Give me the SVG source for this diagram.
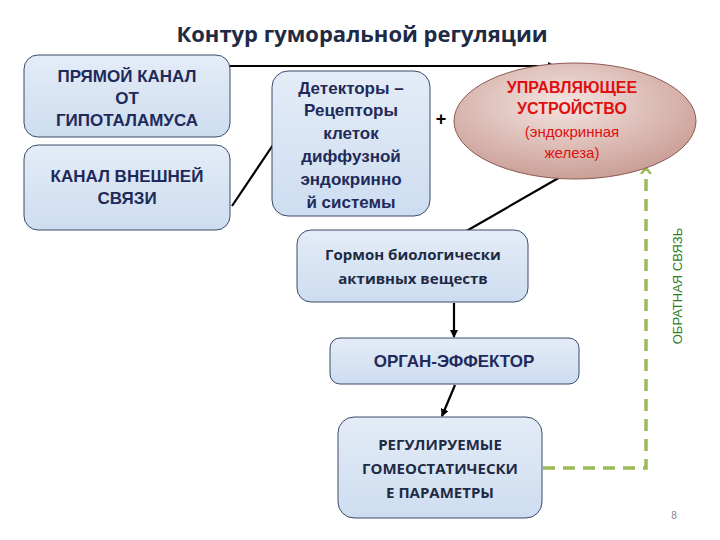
<svg xmlns="http://www.w3.org/2000/svg" width="720" height="540" viewBox="0 0 720 540">
<defs>
<linearGradient id="bg" x1="0" y1="0" x2="0" y2="1"><stop offset="0" stop-color="#e4ecf7"/><stop offset="1" stop-color="#cdddf0"/></linearGradient>
<radialGradient id="eg" cx="0.45" cy="0.35" r="0.7"><stop offset="0" stop-color="#f4e4e0"/><stop offset="1" stop-color="#c79a91"/></radialGradient>
<marker id="ah" markerWidth="8" markerHeight="8" refX="7" refY="4" orient="auto" markerUnits="userSpaceOnUse"><path d="M0,0 L8,4 L0,8 Z" fill="#000"/></marker>
<marker id="gh" markerWidth="12" markerHeight="12" refX="6" refY="6" orient="auto" markerUnits="userSpaceOnUse"><path d="M0,1 L6,6 L0,11" fill="none" stroke="#9bbb59" stroke-width="2.5"/></marker>
</defs>
<style>
.box{fill:url(#bg);stroke:#3b4a6b;stroke-width:1}
.t{font-family:"Liberation Sans",Arial,sans-serif;font-weight:bold;fill:#1f2a5a;text-anchor:middle}
.c{font-family:"Open Sans","Noto Sans",sans-serif;font-weight:bold;fill:#1f2a44;text-anchor:middle}
.con{stroke:#000;stroke-width:2.2;fill:none;marker-end:url(#ah)}
</style>
<rect width="720" height="540" fill="#fff"/>
<text x="362" y="42" class="c" font-size="22">Контур гуморальной регуляции</text>
<g id="connectors">
<line x1="230" y1="66" x2="555" y2="66" class="con"/>
<line x1="232" y1="206" x2="279" y2="136" class="con"/>
<line x1="562" y1="176" x2="456" y2="237" class="con"/>
<line x1="454" y1="303" x2="454" y2="337" class="con"/>
<line x1="455" y1="385" x2="442" y2="416" class="con"/>
<polyline points="543,468 646,468 646,168" fill="none" stroke="#9bbb59" stroke-width="3.5" stroke-dasharray="12,8" marker-end="url(#gh)"/>
</g>
<g id="n1"><rect x="24" y="55" width="206" height="82" rx="14" class="box"/>
<text class="t" font-size="17"><tspan x="127" y="82">ПРЯМОЙ КАНАЛ</tspan><tspan x="127" y="104">ОТ</tspan><tspan x="127" y="126">ГИПОТАЛАМУСА</tspan></text></g>
<g id="n2"><rect x="24" y="145" width="206" height="85" rx="14" class="box"/>
<text class="t" font-size="17"><tspan x="127" y="182">КАНАЛ ВНЕШНЕЙ</tspan><tspan x="127" y="204">СВЯЗИ</tspan></text></g>
<g id="n3"><rect x="272" y="71" width="158" height="145" rx="16" class="box"/>
<text class="t" font-size="17"><tspan x="351" y="94">Детекторы –</tspan><tspan x="351" y="116">Рецепторы</tspan><tspan x="351" y="139">клеток</tspan><tspan x="351" y="162">диффузной</tspan><tspan x="351" y="185">эндокринно</tspan><tspan x="351" y="208">й системы</tspan></text></g>
<text x="441" y="125" class="t" font-size="18" fill="#000" style="fill:#000">+</text>
<g id="n4"><ellipse cx="575" cy="121" rx="121" ry="58" fill="url(#eg)" stroke="#8a5a52" stroke-width="1"/>
<text class="t" font-size="16" style="fill:#e01010"><tspan x="572" y="93">УПРАВЛЯЮЩЕЕ</tspan><tspan x="572" y="114">УСТРОЙСТВО</tspan><tspan x="572" y="137" font-weight="normal" font-size="15">(эндокринная</tspan><tspan x="572" y="158" font-weight="normal" font-size="15">железа)</tspan></text></g>
<g id="n5"><rect x="297" y="230" width="231" height="72" rx="14" class="box"/>
<text class="c" font-size="15"><tspan x="413" y="260">Гормон биологически</tspan><tspan x="413" y="284">активных веществ</tspan></text></g>
<g id="n6"><rect x="330" y="338" width="249" height="46" rx="10" class="box"/>
<text x="454" y="367" class="t" font-size="17">ОРГАН-ЭФФЕКТОР</text></g>
<g id="n7"><rect x="338" y="417" width="204" height="101" rx="16" class="box"/>
<text class="c" font-size="15"><tspan x="440" y="450">РЕГУЛИРУЕМЫЕ</tspan><tspan x="440" y="474">ГОМЕОСТАТИЧЕСКИ</tspan><tspan x="440" y="498">Е ПАРАМЕТРЫ</tspan></text></g>
<text transform="translate(682,286) rotate(-90)" font-family="Liberation Sans,Arial,sans-serif" font-size="13" fill="#2e7d1e" text-anchor="middle">ОБРАТНАЯ СВЯЗЬ</text>
<text x="674" y="519" font-family="Liberation Sans,Arial,sans-serif" font-size="10" fill="#888" text-anchor="middle">8</text>
</svg>
